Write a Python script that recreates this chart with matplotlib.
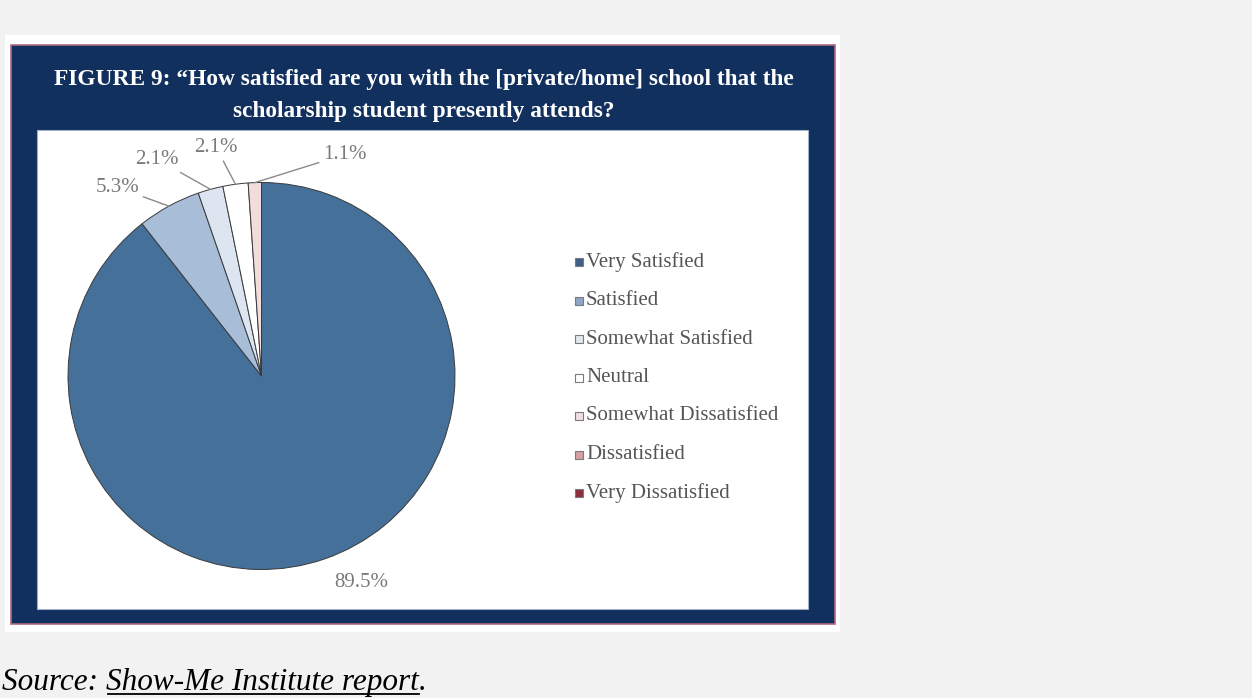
import math
import matplotlib
matplotlib.use('Agg')
import matplotlib.pyplot as plt
from matplotlib.patches import Rectangle

# data
categories = ['Very Satisfied', 'Satisfied', 'Somewhat Satisfied', 'Neutral',
              'Somewhat Dissatisfied', 'Dissatisfied', 'Very Dissatisfied']
shares = [89.5, 5.3, 2.1, 2.1, 1.1, 0.0, 0.0]
pct_labels = ['89.5%', '5.3%', '2.1%', '2.1%', '1.1%', '', '']
title_lines = ['FIGURE 9: \u201cHow satisfied are you with the [private/home] school that the',
               'scholarship student presently attends?']

slice_colors = ['#44709a', '#a7bdd8', '#dce5f0', '#ffffff', '#f2dcdc', '#d99694', '#943634']
legend_colors = ['#3f5f86', '#8ea6c4', '#e2e8f0', '#ffffff', '#f1dde2', '#d4a0a2', '#8f2f3c']

# label placement (angle in degrees, distance in radii) -- layout only
label_place = [(-64.3, 1.184), (127.4, 1.227), (115.7, 1.242), (101.2, 1.204), (69.4, 1.223)]

W, H = 1252, 698
fig = plt.figure(figsize=(W / 100, H / 100), dpi=100, facecolor='#f2f2f2')
ax = fig.add_axes([0, 0, 1, 1])

def Y(y):
    return H - y

NAVY = '#12305d'
ax.add_patch(Rectangle((5, Y(632)), 835, 597, facecolor='white', edgecolor='none', zorder=0))
ax.add_patch(Rectangle((11, Y(624)), 824, 579, facecolor=NAVY, edgecolor='#b0697e',
                       linewidth=1.2, zorder=1))
ax.add_patch(Rectangle((37, Y(609)), 771, 479, facecolor='white', edgecolor='#9fb0c8',
                       linewidth=0.8, zorder=2))

for i, line in enumerate(title_lines):
    ax.text(424, Y(79 + 32 * i), line, ha='center', va='center', color='white',
            fontsize=16.8, fontweight='bold', family='Liberation Serif', zorder=3)

cx, cy, r = 261.5, Y(376), 193.5
wedges, _ = ax.pie(shares, colors=slice_colors, startangle=90, counterclock=False,
                   center=(cx, cy), radius=r,
                   wedgeprops=dict(edgecolor='#3a3a3a', linewidth=0.7, zorder=4))

ax.set_xlim(0, W)
ax.set_ylim(0, H)
ax.set_aspect('auto')
ax.axis('off')

for i, (ang, dist) in enumerate(label_place):
    w = wedges[i]
    mid = math.radians((w.theta1 + w.theta2) / 2)
    tx = cx + r * dist * math.cos(math.radians(ang))
    ty = cy + r * dist * math.sin(math.radians(ang))
    if i == 0:
        ax.text(tx, ty, pct_labels[i], ha='center', va='center', color='#7a7a7a',
                fontsize=15, family='Liberation Serif', zorder=5)
    else:
        ax.annotate(pct_labels[i], xy=(cx + r * math.cos(mid), cy + r * math.sin(mid)),
                    xytext=(tx, ty), ha='center', va='center', color='#7a7a7a',
                    fontsize=15, family='Liberation Serif', zorder=5,
                    arrowprops=dict(arrowstyle='-', color='#8a8a8a', lw=1.0,
                                    shrinkA=1, shrinkB=0))

for i, name in enumerate(categories):
    y = Y(262 + 38.5 * i)
    ax.add_patch(Rectangle((575, y - 4), 8, 8, facecolor=legend_colors[i],
                           edgecolor='#7a7a7a', linewidth=0.8, zorder=5))
    ax.text(586, y, name, ha='left', va='center', color='#555555', fontsize=15,
            family='Liberation Serif', zorder=5)

t1 = ax.text(2, Y(690), 'Source: ', ha='left', va='baseline', fontsize=22.5,
             style='italic', family='Liberation Serif', color='black')
fig.canvas.draw()
rend = fig.canvas.get_renderer()
bb = t1.get_window_extent(rend)
x0 = bb.x1
t2 = ax.text(x0, Y(690), 'Show-Me Institute report', ha='left', va='baseline',
             fontsize=22.5, style='italic', family='Liberation Serif', color='black')
bb2 = t2.get_window_extent(rend)
ax.plot([x0 + 2, bb2.x1], [Y(694), Y(694)], color='black', lw=1.3)
ax.text(bb2.x1, Y(690), '.', ha='left', va='baseline', fontsize=22.5,
        style='italic', family='Liberation Serif', color='black')

fig.savefig('out.png', dpi=100, facecolor=fig.get_facecolor())
